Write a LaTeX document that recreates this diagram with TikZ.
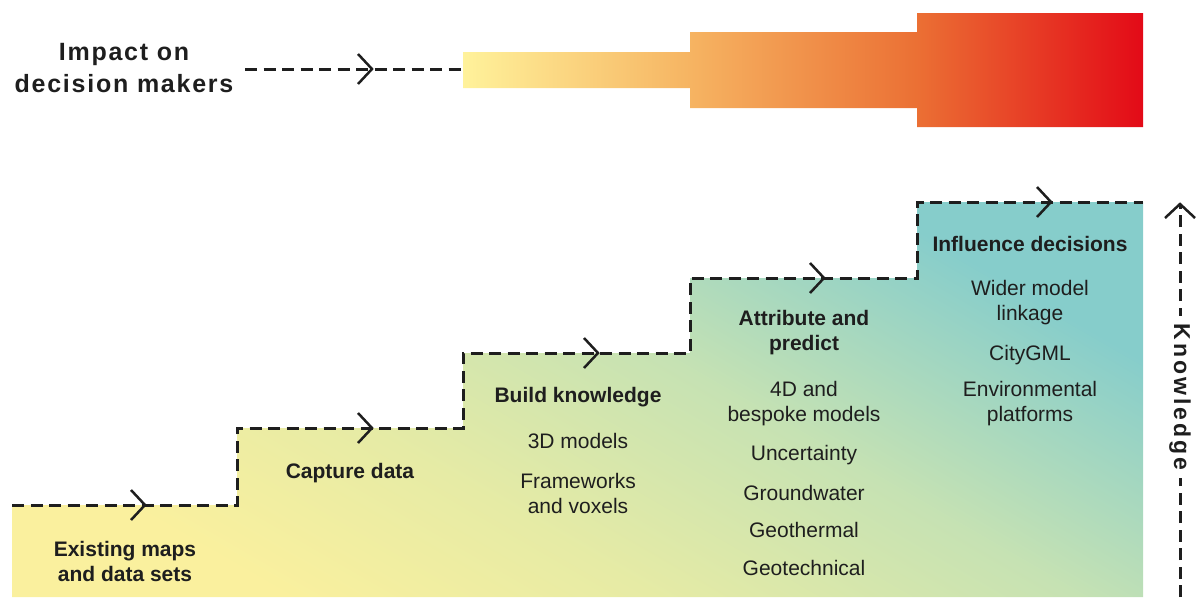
\documentclass[tikz,border=0pt]{standalone}
\usepackage{fontspec}
\setmainfont{Liberation Sans}
\newfontfamily\spacedfont[LetterSpace=7]{Liberation Sans}
\newfontfamily\knowfont[LetterSpace=13]{Liberation Sans}
\definecolor{ink}{HTML}{1E1E1E}
\definecolor{impA}{HTML}{FFF29B}
\definecolor{impB}{HTML}{F6B462}
\definecolor{impC}{HTML}{EB7034}
\definecolor{impD}{HTML}{E30A17}
\definecolor{stA}{HTML}{FAF09E}
\definecolor{stB}{HTML}{E6EBA5}
\definecolor{stC}{HTML}{C6E2B3}
\definecolor{stD}{HTML}{86CDCB}
\pgfdeclarehorizontalshading{impactshade}{100bp}{color(0bp)=(impA); color(25bp)=(impA); color(41.67bp)=(impB); color(58.33bp)=(impC); color(75bp)=(impD); color(100bp)=(impD)}
\pgfdeclarehorizontalshading{stairshade}{100bp}{color(0bp)=(stA); color(26bp)=(stA); color(40bp)=(stB); color(56bp)=(stC); color(74bp)=(stD); color(100bp)=(stD)}
\tikzset{
  dashline/.style={draw=ink, line width=3pt, dash pattern=on 12pt off 6.5pt},
  chev/.style={draw=ink, line width=2.5pt, line join=miter},
  txt/.style={font=\fontsize{21}{25}\selectfont, align=center, text=ink, inner sep=0pt},
  hd/.style={txt, font=\fontsize{21}{25}\selectfont\bfseries},
}
\begin{document}
\begin{tikzpicture}[x=1pt,y=-1pt]
\useasboundingbox (0,0) rectangle (1201,597);
% impact bars
\shade[shading=impactshade] (463,52) -- (690,52) -- (690,32) -- (917,32) -- (917,13) -- (1143,13) -- (1143,127) -- (917,127) -- (917,108) -- (690,108) -- (690,88) -- (463,88) -- cycle;
% staircase fill
\shade[shading=stairshade, shading angle=60] (12,597) -- (12,505) -- (237,505) -- (237,428) -- (463,428) -- (463,353) -- (690,353) -- (690,278) -- (917,278) -- (917,202) -- (1143,202) -- (1143,597) -- cycle;
% impact label and arrow
\node[font=\fontsize{25}{32}\selectfont\bfseries\spacedfont, align=center, text=ink, inner sep=0pt] (impact) at (124,68) {Impact on\\decision makers};
\coordinate (ia) at (245,69);
\coordinate (ib) at (463,69);
\coordinate (itip) at (372,69);
\draw[dashline] (ia) -- (ib);
\draw[chev] (itip) ++(-14,-15) -- (itip) -- ++(-14,15);
% staircase line
\coordinate (p0) at (12,505);
\coordinate (p1) at (237,505);
\coordinate (p2) at (237,428);
\coordinate (p3) at (463,428);
\coordinate (p4) at (463,353);
\coordinate (p5) at (690,353);
\coordinate (p6) at (690,278);
\coordinate (p7) at (917,278);
\coordinate (p8) at (917,202);
\coordinate (p9) at (1143,202);
\draw[dashline] (p0) -- (p1) -- (p2) -- (p3) -- (p4) -- (p5) -- (p6) -- (p7) -- (p8) -- (p9);
\foreach \t in {(145,505),(372,428),(598,353),(824,278),(1051,202)}{
  \draw[chev] \t ++(-14,-15) -- \t -- ++(-14,15);
}
% knowledge axis
\coordinate (kb) at (1180,597);
\coordinate (kt) at (1180,204);
\draw[dashline] (kb) -- (kt);
\draw[chev] (kt) ++(-15,14) -- (kt) -- ++(15,14);
\node[font=\fontsize{23}{26}\selectfont\bfseries\knowfont, text=ink, fill=white, inner xsep=8pt, inner ysep=2pt, rotate=-90] (know) at (1180,397) {Knowledge};
% step texts
\node[hd] (s1) at (125,561) {Existing maps\\and data sets};
\node[hd] (s2) at (350,473) {Capture data};
\node[hd] (s3) at (578,397) {Build knowledge};
\node[txt] (s3a) at (578,441) {3D models};
\node[txt] (s3b) at (578,493) {Frameworks\\and voxels};
\node[hd] (s4) at (804,333) {Attribute and\\predict};
\node[txt] (s4a) at (804,404) {4D and\\bespoke models};
\node[txt] (s4b) at (804,455) {Uncertainty};
\node[txt] (s4c) at (804,493) {Groundwater};
\node[txt] (s4d) at (804,530) {Geothermal};
\node[txt] (s4e) at (804,568) {Geotechnical};
\node[hd] (s5) at (1030,244) {Influence decisions};
\node[txt] (s5a) at (1030,303) {Wider model\\linkage};
\node[txt] (s5b) at (1030,355) {CityGML};
\node[txt] (s5c) at (1030,404) {Environmental\\platforms};
\end{tikzpicture}
\end{document}
